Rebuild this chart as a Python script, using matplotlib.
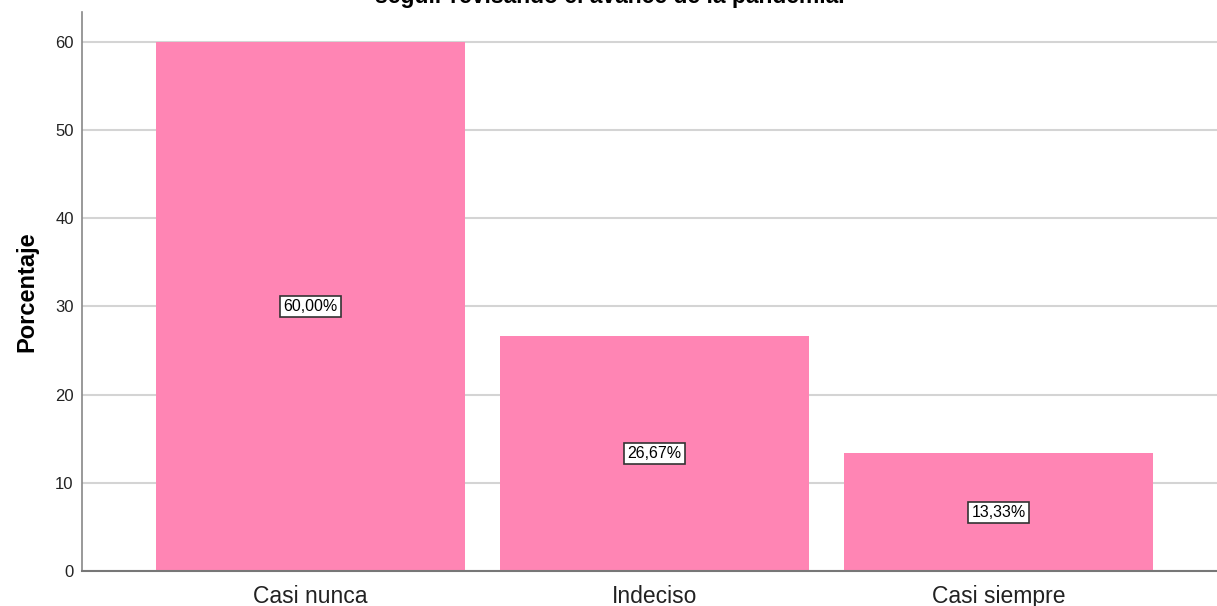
import matplotlib
matplotlib.use('Agg')
import matplotlib.pyplot as plt

# Datos del grafico
categorias = ['Casi nunca', 'Indeciso', 'Casi siempre']
porcentajes = [60.00, 26.67, 13.33]
etiquetas = ['60,00%', '26,67%', '13,33%']
titulo = 'seguir revisando el avance de la pandemia.'

plt.rcParams['font.family'] = ['Liberation Sans', 'DejaVu Sans']

fig = plt.figure(figsize=(12.17, 6.06), dpi=100)
ax = fig.add_axes([82 / 1217, 35 / 606, (1227 - 82) / 1217, (571 - 12) / 606])

x = list(range(len(categorias)))
ax.bar(x, porcentajes, width=0.898, color='#FF85B4', zorder=2)

for xi, v, lab in zip(x, porcentajes, etiquetas):
    ax.text(xi, v / 2, lab, ha='center', va='center', fontsize=11.5, zorder=3,
            bbox=dict(boxstyle='square,pad=0.2', facecolor='white', edgecolor='#333333', linewidth=1.2))

ax.set_xlim(-0.664, 2.664)
ax.set_ylim(0, 63.4)
ax.set_yticks([0, 10, 20, 30, 40, 50, 60])
ax.yaxis.grid(True, color='#D4D4D4', linewidth=1.5, zorder=0)
ax.set_axisbelow(True)

ax.set_xticks(x)
ax.set_xticklabels(categorias, fontsize=16.5, color='#222222')
ax.tick_params(axis='x', length=0, pad=10)
ax.tick_params(axis='y', length=0, labelsize=12, pad=6, colors='#222222')

for s in ['top', 'right']:
    ax.spines[s].set_visible(False)
ax.spines['left'].set_color('#888888')
ax.spines['bottom'].set_color('#777777')
ax.spines['left'].set_linewidth(1.2)
ax.spines['bottom'].set_linewidth(1.5)

ax.set_ylabel('Porcentaje', fontsize=17, fontweight='bold', labelpad=12)

# titulo recortado arriba, como en el original
fig.text(610 / 1217, 1 - 3.5 / 606, titulo, ha='center', va='baseline',
         fontsize=16.5, fontweight='bold')

fig.savefig('out.png', dpi=100)
